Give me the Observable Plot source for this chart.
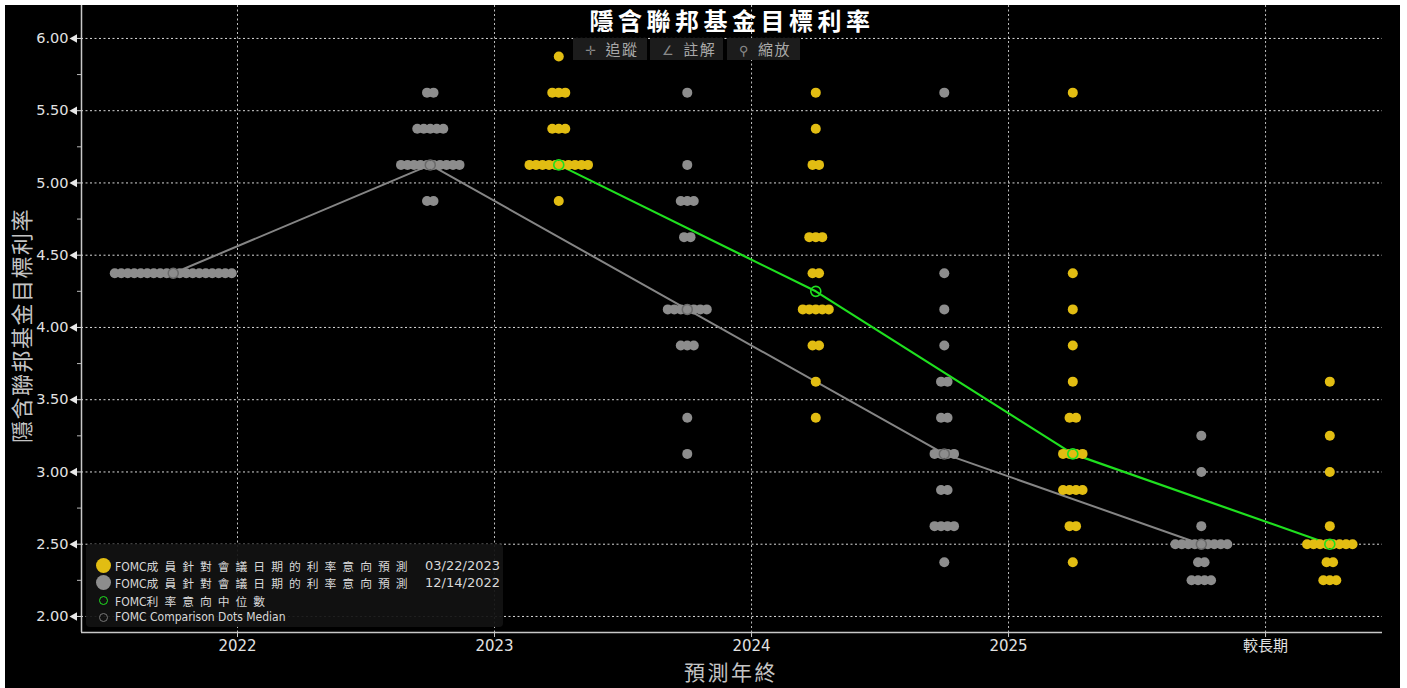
<!DOCTYPE html>
<html><head><meta charset="utf-8">
<script src="https://cdn.jsdelivr.net/npm/d3@7"></script>
<script src="https://cdn.jsdelivr.net/npm/@observablehq/plot@0.6"></script>
<style>
html,body{margin:0;padding:0;background:#fff;width:1407px;height:688px;overflow:hidden;}
#panel{position:absolute;left:5px;top:5px;width:1395px;height:683px;background:#000;}
#chart{position:absolute;left:0;top:0;}
.ov{position:absolute;white-space:nowrap;}
#title{left:527px;top:3px;width:400px;height:24px;text-align:center;font-family:"Noto Sans CJK TC",sans-serif;font-weight:700;font-size:24px;line-height:24px;letter-spacing:4.5px;color:#fff;}
#ytitle{left:2px;top:200px;width:26px;height:240px;text-align:center;font-family:"Noto Sans CJK TC",sans-serif;font-size:22px;line-height:26px;letter-spacing:1.5px;color:#c4c4c4;writing-mode:vertical-rl;text-orientation:sideways;transform:rotate(180deg);}
#xtitle{left:576px;top:653px;width:300px;height:26px;text-align:center;font-family:"Noto Sans CJK TC",sans-serif;font-size:21px;line-height:26px;letter-spacing:2.5px;color:#c4c4c4;}
.tb{position:absolute;top:33px;height:22px;background:#1c1c1c;color:#a8a8a8;font-family:"Noto Sans CJK TC",sans-serif;font-size:15px;line-height:22px;letter-spacing:1.5px;}
.tb .ic{font-family:"DejaVu Sans";font-size:13px;color:#8a8a8a;margin:0 8px 0 12px;}
#legend{position:absolute;left:81px;top:539px;width:417px;height:83px;background:rgba(18,18,18,0.93);border-radius:4px;}
.lrow{position:absolute;left:0;height:16px;width:417px;}
.sym{position:absolute;border-radius:50%;}
.ltxt{position:absolute;left:29px;top:-1px;font-family:"DejaVu Sans Condensed","DejaVu Sans",sans-serif;font-size:12px;line-height:17px;color:#d8d8d8;}
.cjk{font-family:"Noto Sans CJK TC",sans-serif;font-size:11.8px;letter-spacing:6px;}
.ldate{position:absolute;right:3px;top:-1px;font-family:"DejaVu Sans",sans-serif;font-size:13px;line-height:17px;color:#d8d8d8;}
</style></head><body>
<div id="panel"><div id="chart"></div></div>
<script>
// ---- data ----
const categories = ["2022", "2023", "2024", "2025", "較長期"];
const yTicks = [2, 2.5, 3, 3.5, 4, 4.5, 5, 5.5, 6];
const yMinorTicks = [2.25, 2.75, 3.25, 3.75, 4.25, 4.75, 5.25, 5.75];
// [category, rate, number of participants]
const dotsMar2023 = [
  ["2023", 5.875, 1], ["2023", 5.625, 3], ["2023", 5.375, 3], ["2023", 5.125, 10], ["2023", 4.875, 1],
  ["2024", 5.625, 1], ["2024", 5.375, 1], ["2024", 5.125, 2], ["2024", 4.625, 3], ["2024", 4.375, 2],
  ["2024", 4.125, 5], ["2024", 3.875, 2], ["2024", 3.625, 1], ["2024", 3.375, 1],
  ["2025", 5.625, 1], ["2025", 4.375, 1], ["2025", 4.125, 1], ["2025", 3.875, 1], ["2025", 3.625, 1],
  ["2025", 3.375, 2], ["2025", 3.125, 4], ["2025", 2.875, 4], ["2025", 2.625, 2], ["2025", 2.375, 1],
  ["較長期", 3.625, 1], ["較長期", 3.25, 1], ["較長期", 3.0, 1], ["較長期", 2.625, 1],
  ["較長期", 2.5, 8], ["較長期", 2.375, 2], ["較長期", 2.25, 3]
];
const dotsDec2022 = [
  ["2022", 4.375, 19],
  ["2023", 5.625, 2], ["2023", 5.375, 5], ["2023", 5.125, 10], ["2023", 4.875, 2],
  ["2024", 5.625, 1], ["2024", 5.125, 1], ["2024", 4.875, 3], ["2024", 4.625, 2],
  ["2024", 4.125, 7], ["2024", 3.875, 3], ["2024", 3.375, 1], ["2024", 3.125, 1],
  ["2025", 5.625, 1], ["2025", 4.375, 1], ["2025", 4.125, 1], ["2025", 3.875, 1], ["2025", 3.625, 2],
  ["2025", 3.375, 2], ["2025", 3.125, 4], ["2025", 2.875, 2], ["2025", 2.625, 4], ["2025", 2.375, 1],
  ["較長期", 3.25, 1], ["較長期", 3.0, 1], ["較長期", 2.625, 1], ["較長期", 2.5, 9],
  ["較長期", 2.375, 2], ["較長期", 2.25, 4]
];
const medianMar2023 = [["2023", 5.125], ["2024", 4.25], ["2025", 3.125], ["較長期", 2.5]];
const medianDec2022 = [["2022", 4.375], ["2023", 5.125], ["2024", 4.125], ["2025", 3.125], ["較長期", 2.5]];
const titleText = "隱含聯邦基金目標利率";
const yLabel = "隱含聯邦基金目標利率";
const xLabel = "預測年終";
const legendItems = [
  {label: "成員針對會議日期的利率意向預測", date: "03/22/2023"},
  {label: "成員針對會議日期的利率意向預測", date: "12/14/2022"},
  {label: "利率意向中位數", date: ""},
  {label: "Comparison Dots Median", date: ""}
];

// ---- layout ----
const W = 1395, H = 683;
const mL = 76, mR = 18, mT = 0, mB = 56;
const xDomain = [-0.607, 4.455];
const yDomain = [1.889, 6.228];
const pxPerUnit = (W - mL - mR) / (xDomain[1] - xDomain[0]);
const dotStep = 6.5 / pxPerUnit;
const YELLOW = "#e2bd12", GRAY = "#8d8d8d", GREEN = "#1fe01f";

function expand(rows, side) {
  const out = [];
  for (const [cat, rate, n] of rows) {
    const c = categories.indexOf(cat) + side * 0.25;
    for (let k = 0; k < n; k++) out.push({x: c + (k - (n - 1) / 2) * dotStep, y: rate});
  }
  return out;
}
const pos = (side) => (d) => categories.indexOf(d[0]) + side * 0.25;
const xTickVals = categories.map((c, i) => i);

const chart = Plot.plot({
  width: W, height: H,
  marginLeft: mL, marginRight: mR, marginTop: mT, marginBottom: mB,
  style: {background: "transparent", color: "#dcdcdc", fontFamily: "'DejaVu Sans','Noto Sans CJK TC',sans-serif", fontSize: "14px", overflow: "visible"},
  x: {domain: xDomain, axis: null},
  y: {domain: yDomain, axis: null},
  marks: [
    Plot.gridY(yTicks, {stroke: "#ffffff", strokeOpacity: 0.85, strokeDasharray: "2,2.5", strokeWidth: 1}),
    Plot.gridX(xTickVals, {stroke: "#ffffff", strokeOpacity: 0.75, strokeDasharray: "2,2.5", strokeWidth: 1}),
    Plot.ruleX([xDomain[0]], {stroke: "#c8c8c8", strokeWidth: 1.5}),
    Plot.ruleY([yDomain[0]], {stroke: "#c8c8c8", strokeWidth: 1.5}),
    Plot.axisY(yTicks, {tickSize: 6, tickPadding: 7, tickFormat: d3.format(".2f"), stroke: "#dcdcdc", fill: "#e2e2e2", fontSize: 14.5, label: null}),
    Plot.axisY(yMinorTicks, {tickSize: 4, tickFormat: () => "", stroke: "#bbbbbb", label: null}),
    Plot.dot(yTicks, {x: () => xDomain[0], y: (d) => d, symbol: "triangle", rotate: -90, r: 3.2, fill: "#e8e8e8", dx: -7}),
    Plot.axisX(xTickVals, {tickSize: 5, tickPadding: 3, tickFormat: (i) => categories[i], stroke: "#c8c8c8", fill: "#e2e2e2", fontSize: 15, label: null}),
    Plot.line(medianDec2022, {x: pos(-1), y: (d) => d[1], stroke: "#858585", strokeWidth: 2}),
    Plot.line(medianMar2023, {x: pos(1), y: (d) => d[1], stroke: GREEN, strokeWidth: 2.2}),
    Plot.dot(expand(dotsDec2022, -1), {x: "x", y: "y", r: 5, fill: GRAY}),
    Plot.dot(expand(dotsMar2023, 1), {x: "x", y: "y", r: 5, fill: YELLOW}),
    Plot.dot(medianDec2022, {x: pos(-1), y: (d) => d[1], r: 5, stroke: "#6a6a6a", strokeWidth: 1.5, fill: "none"}),
    Plot.dot(medianMar2023, {x: pos(1), y: (d) => d[1], r: 5, stroke: GREEN, strokeWidth: 1.6, fill: "none"})
  ]
});
document.getElementById("chart").appendChild(chart);

// ---- overlays ----
const panel = document.getElementById("panel");
function add(html) { panel.insertAdjacentHTML("beforeend", html); }
add(`<div class="ov" id="title">${titleText}</div>`);
add(`<div class="ov" id="ytitle">${yLabel}</div>`);
add(`<div class="ov" id="xtitle">${xLabel}</div>`);
const toolbar = [["✛", "追蹤", 568, 74], ["∠", "註解", 645, 73], ["⚲", "縮放", 722, 73]];
for (const [ic, t, l, w] of toolbar) add(`<div class="tb" style="left:${l}px;width:${w}px"><span class="ic">${ic}</span>${t}</div>`);

const symStyles = [
  `left:10px;top:0px;width:15px;height:15px;background:${YELLOW};`,
  `left:10px;top:0px;width:15px;height:15px;background:${GRAY};`,
  `left:13px;top:3px;width:7px;height:7px;border:1.6px solid ${GREEN};`,
  `left:13px;top:3px;width:7px;height:7px;border:1.6px solid #777;`
];
const rowTops = [14, 31.3, 48.6, 65.9];
let lg = `<div id="legend">`;
legendItems.forEach((it, i) => {
  lg += `<div class="lrow" style="top:${rowTops[i]}px"><div class="sym" style="${symStyles[i]}"></div>` +
        `<div class="ltxt">FOMC${i === 3 ? " " + it.label : `<span class="cjk">${it.label}</span>`}</div>` +
        (it.date ? `<div class="ldate">${it.date}</div>` : "") + `</div>`;
});
lg += `</div>`;
add(lg);
</script>
</body></html>
